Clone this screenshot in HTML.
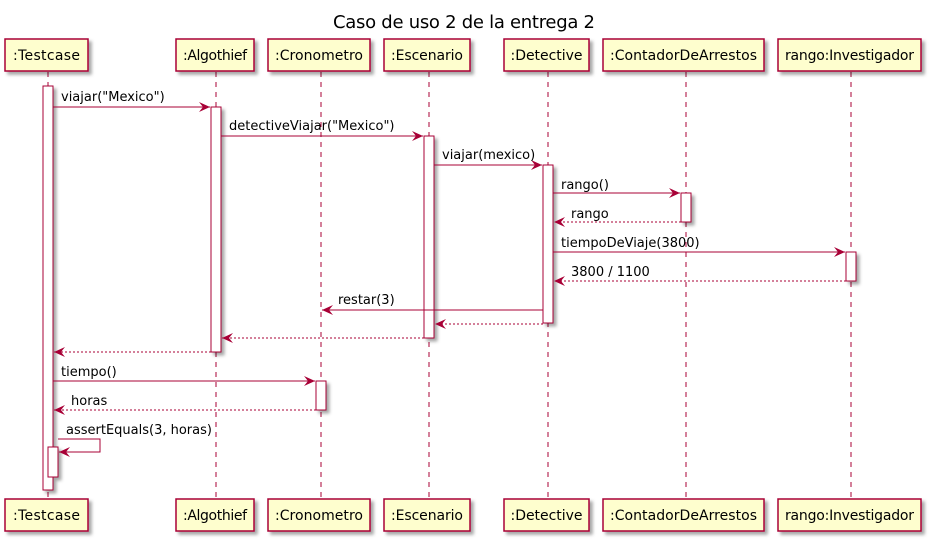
<!DOCTYPE html>
<html><head><meta charset="utf-8"><style>
html,body{margin:0;padding:0;background:#fff;}
svg{display:block;}
text{font-family:"DejaVu Sans","Liberation Sans",sans-serif;fill:#000;}
</style></head><body>
<svg width="934" height="543" viewBox="0 0 934 543" xmlns="http://www.w3.org/2000/svg">
<defs>
<filter id="sh" x="-10%" y="-10%" width="130%" height="130%">
<feGaussianBlur in="SourceAlpha" stdDeviation="1.5"/><feOffset dx="3" dy="3" result="b"/>
<feFlood flood-color="#000" flood-opacity="0.35"/><feComposite in2="b" operator="in"/>
<feMerge><feMergeNode/><feMergeNode in="SourceGraphic"/></feMerge>
</filter>
<marker id="a" markerWidth="12" markerHeight="10" refX="11" refY="5" orient="auto" markerUnits="userSpaceOnUse">
<path d="M0,0 L11,5 L0,10 L4,5 Z" fill="#A80036"/></marker>
</defs>
<text x="464" y="28" font-size="18" text-anchor="middle" textLength="262">Caso de uso 2 de la entrega 2</text>

<g stroke="#A80036" stroke-width="1" stroke-dasharray="5,5">
<line x1="48" y1="72" x2="48" y2="499"/>
<line x1="216" y1="72" x2="216" y2="499"/>
<line x1="321" y1="72" x2="321" y2="499"/>
<line x1="429" y1="72" x2="429" y2="499"/>
<line x1="548" y1="72" x2="548" y2="499"/>
<line x1="686" y1="72" x2="686" y2="499"/>
<line x1="851" y1="72" x2="851" y2="499"/>
</g>

<g fill="#FEFECE" stroke="#A80036" stroke-width="1.5" filter="url(#sh)">
<rect x="5" y="39" width="83" height="32"/>
<rect x="176" y="39" width="78" height="32"/>
<rect x="268" y="39" width="102" height="32"/>
<rect x="384" y="39" width="86" height="32"/>
<rect x="504" y="39" width="85" height="32"/>
<rect x="603" y="39" width="161" height="32"/>
<rect x="778" y="39" width="143" height="32"/>
<rect x="5" y="499" width="83" height="32"/>
<rect x="176" y="499" width="78" height="32"/>
<rect x="268" y="499" width="102" height="32"/>
<rect x="384" y="499" width="86" height="32"/>
<rect x="504" y="499" width="85" height="32"/>
<rect x="603" y="499" width="161" height="32"/>
<rect x="778" y="499" width="143" height="32"/>
</g>
<g font-size="14" text-anchor="middle">
<text x="46.5" y="60" textLength="67">:Testcase</text><text x="215" y="60" textLength="64">:Algothief</text><text x="319" y="60" textLength="88">:Cronometro</text><text x="427" y="60" textLength="72">:Escenario</text><text x="546.5" y="60" textLength="72">:Detective</text><text x="683.5" y="60" textLength="147">:ContadorDeArrestos</text><text x="849.5" y="60" textLength="129">rango:Investigador</text>
<text x="46.5" y="520" textLength="67">:Testcase</text><text x="215" y="520" textLength="64">:Algothief</text><text x="319" y="520" textLength="88">:Cronometro</text><text x="427" y="520" textLength="72">:Escenario</text><text x="546.5" y="520" textLength="72">:Detective</text><text x="683.5" y="520" textLength="147">:ContadorDeArrestos</text><text x="849.5" y="520" textLength="129">rango:Investigador</text>
</g>

<g fill="#fff" stroke="#A80036" stroke-width="1" filter="url(#sh)">
<rect x="43" y="86" width="10" height="404"/>
<rect x="211" y="107" width="10" height="245"/>
<rect x="424" y="136" width="10" height="202"/>
<rect x="543" y="165" width="10" height="158"/>
<rect x="681" y="193" width="10" height="29"/>
<rect x="846" y="252" width="10" height="29"/>
<rect x="316" y="381" width="10" height="29"/>
<rect x="48" y="447" width="10" height="30"/>
</g>

<g stroke="#A80036" stroke-width="1" fill="none">
<line x1="53" y1="107" x2="210" y2="107" marker-end="url(#a)"/>
<line x1="221" y1="136" x2="423" y2="136" marker-end="url(#a)"/>
<line x1="434" y1="165" x2="542" y2="165" marker-end="url(#a)"/>
<line x1="553" y1="193" x2="680" y2="193" marker-end="url(#a)"/>
<line x1="681" y1="222" x2="554" y2="222" stroke-dasharray="2,2" marker-end="url(#a)"/>
<line x1="553" y1="252" x2="845" y2="252" marker-end="url(#a)"/>
<line x1="846" y1="281" x2="554" y2="281" stroke-dasharray="2,2" marker-end="url(#a)"/>
<line x1="543" y1="310" x2="322" y2="310" marker-end="url(#a)"/>
<line x1="543" y1="324" x2="435" y2="324" stroke-dasharray="2,2" marker-end="url(#a)"/>
<line x1="424" y1="338" x2="222" y2="338" stroke-dasharray="2,2" marker-end="url(#a)"/>
<line x1="211" y1="352" x2="54" y2="352" stroke-dasharray="2,2" marker-end="url(#a)"/>
<line x1="53" y1="381" x2="315" y2="381" marker-end="url(#a)"/>
<line x1="316" y1="410" x2="54" y2="410" stroke-dasharray="2,2" marker-end="url(#a)"/>
<polyline points="58,439 100,439 100,452 59,452" marker-end="url(#a)"/>
</g>

<g font-size="13">
<text x="61" y="101">viajar("Mexico")</text>
<text x="229" y="130">detectiveViajar("Mexico")</text>
<text x="442" y="159">viajar(mexico)</text>
<text x="561" y="189">rango()</text>
<text x="571" y="218">rango</text>
<text x="561" y="247">tiempoDeViaje(3800)</text>
<text x="571" y="276">3800 / 1100</text>
<text x="338" y="304">restar(3)</text>
<text x="61" y="376">tiempo()</text>
<text x="71" y="405">horas</text>
<text x="66" y="434">assertEquals(3, horas)</text>
</g>
</svg>
</body></html>
